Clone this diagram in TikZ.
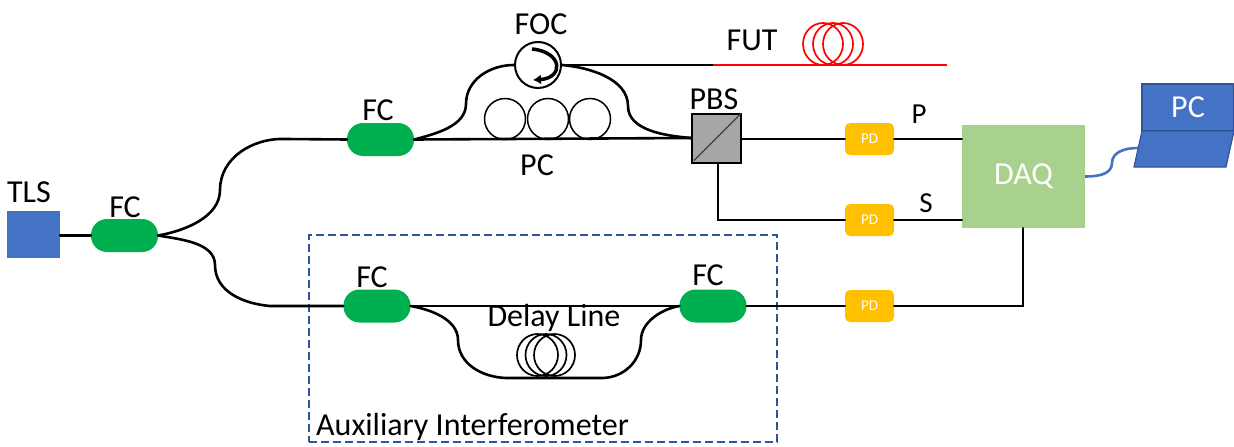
\documentclass[tikz,border=0pt]{standalone}
\usepackage{fontspec}
\setmainfont{Carlito}
\usetikzlibrary{shapes.geometric,arrows.meta,calc}
\definecolor{tlsblue}{HTML}{4472C4}
\definecolor{darkblue}{HTML}{2F5597}
\definecolor{fcgreen}{HTML}{00B050}
\definecolor{pdyellow}{HTML}{FFC000}
\definecolor{daqgreen}{HTML}{A9D18E}
\definecolor{pbsgray}{HTML}{A6A6A6}
\tikzset{
  fiber/.style={draw=black,line width=2.6pt,line cap=round},
  redfiber/.style={draw=red,line width=2.6pt},
  lab/.style={inner sep=0pt,font=\fontsize{32}{35}\selectfont,text=black},
  fcbox/.style={fill=fcgreen,rounded corners=16pt,minimum width=67pt,minimum height=33pt,inner sep=0pt},
  pdbox/.style={fill=pdyellow,rounded corners=5pt,minimum width=49pt,minimum height=32pt,inner sep=0pt,text=white,font=\fontsize{15}{17}\selectfont},
  loop/.style={circle,draw=black,line width=1.5pt,minimum size=41pt,inner sep=0pt},
  coil/.style={ellipse,draw=#1,line width=1.7pt,minimum width=40pt,minimum height=42pt,inner sep=0pt},
}
\begin{document}
\begin{tikzpicture}[x=1pt,y=-1pt]
\useasboundingbox (0,0) rectangle (1234,447);
% dashed frame
\node[draw=darkblue,dash pattern=on 8pt off 4pt,line width=2pt,minimum width=468pt,minimum height=207pt,inner sep=0pt] (aux) at (543,338.5) {};
% blocks
\node[fill=tlsblue,minimum width=53pt,minimum height=47pt,inner sep=0pt] (tls) at (33.5,234.5) {};
\node[fcbox] (fca) at (124.5,235.5) {};
\node[fcbox] (fcb) at (380.5,139.5) {};
\node[fcbox] (fcc) at (377,306) {};
\node[fcbox] (fcd) at (713,306) {};
\node[pdbox] (pda) at (869.5,139) {PD};
\node[pdbox] (pdb) at (869.5,220) {PD};
\node[pdbox] (pdc) at (869.5,306) {PD};
\node[fill=daqgreen,minimum width=123pt,minimum height=103pt,inner sep=0pt,text=white,font=\fontsize{32}{35}\selectfont] (daq) at (1023.5,176.5) {DAQ};
\node[draw=black,fill=pbsgray,line width=2pt,minimum size=49pt,inner sep=0pt] (pbs) at (716.5,138) {};
\draw[draw=black!75,line width=1.2pt] ($(pbs.south west)+(3,-3)$) -- ($(pbs.north east)+(-1,1)$);
\node[circle,draw=black,line width=2pt,minimum size=46pt,inner sep=0pt] (foc) at (538,65) {};
% polarization controller loops
\node[loop] (la) at (505,119) {};
\node[loop] (lb) at (548,119) {};
\node[loop] (lc) at (590,119) {};
% coils
\node[coil=red] (ra) at (823,44) {};
\node[coil=red] (rb) at (833,44) {};
\node[coil=red] (rc) at (843,44) {};
\node[coil=black,minimum width=41pt] (da) at (537.5,355) {};
\node[coil=black,minimum width=41pt] (db) at (546,355) {};
\node[coil=black,minimum width=41pt] (dc) at (554.5,355) {};
% waypoints
\coordinate (u1) at (220,190);
\coordinate (u2) at (285,139);
\coordinate (d1) at (215,265);
\coordinate (d2) at (270,306);
\coordinate (v1) at (466,104);
\coordinate (v2) at (628,106);
\coordinate (w1) at (458,340);
\coordinate (w2) at (506,378);
\coordinate (w3) at (603,378);
\coordinate (w4) at (641,340);
\coordinate (t1) at (713,65);
\coordinate (t2) at (947,65);
\coordinate (q1) at (718,220);
\coordinate (q2) at (1023,306);
% fibres
\draw[fiber] (tls.east |- fca.west) -- (fca.west);
\draw[fiber] (fca.east) to[out=10,in=-90,looseness=.9] (u1) to[out=90,in=178] (u2) -- (fcb.west);
\draw[fiber] (fca.east) to[out=-10,in=90,looseness=.9] (d1) to[out=-90,in=175] (d2) -- (fcc.west);
\draw[fiber] (fcb.east) -- (pbs.west);
\draw[fiber] (fcb.east) to[out=15,in=-90,looseness=.9] (v1) to[out=90,in=180] (foc.west);
\draw[fiber] (foc.east) to[out=-5,in=90,looseness=.9] (v2) to[out=-90,in=175,looseness=.9] (pbs.west);
\draw[fiber] (foc.east) -- (t1);
\draw[redfiber] (t1) -- (t2);
\draw[fiber] (pbs.east |- pda.west) -- (pda.west);
\draw[fiber] (pbs.south -| q1) -- (q1) -- (pdb.west);
\draw[fiber] (pda.east) -- (pda.east -| daq.west);
\draw[fiber] (pdb.east) -- (pdb.east -| daq.west);
\draw[fiber] (fcc.east) -- (fcd.west);
\draw[fiber] (fcc.east) to[out=-10,in=90,looseness=.9] (w1) to[out=-90,in=178] (w2) -- (w3) to[out=2,in=-90] (w4) to[out=90,in=190,looseness=.9] (fcd.west);
\draw[fiber] (fcd.east) -- (pdc.west);
\draw[fiber] (pdc.east) -- (q2) -- (q2 |- daq.south);
% circulator arrow
\draw[line width=3.5pt,-{Latex[length=8pt,width=10pt]}] (532,49) .. controls (563,52) and (564,78) .. (533,80);
% laptop
\node[fill=tlsblue,draw=darkblue,line width=1.2pt,minimum width=92pt,minimum height=47pt,inner sep=0pt,text=white,font=\fontsize{32}{35}\selectfont] (screen) at (1188,107.5) {PC};
\coordinate (kb1) at (1142,131);
\coordinate (kb2) at (1234,131);
\coordinate (kb3) at (1226,167);
\coordinate (kb4) at (1134,167);
\draw[fill=tlsblue,draw=darkblue,line width=1.2pt] (kb1) -- (kb2) -- (kb3) -- (kb4) -- cycle;
\coordinate (cbl) at (1138,148);
\coordinate (cbm) at (1112,163);
\draw[draw=tlsblue,line width=2.6pt] (daq.east) to[out=0,in=-90] (cbm) to[out=90,in=180] (cbl);
% labels
\node[lab] (lfoc) at (541,24) {FOC};
\node[lab] (lfut) at (752,40) {FUT};
\node[lab] (lpbs) at (714,99) {PBS};
\node[lab] (lpc) at (537,165) {PC};
\node[lab] (lfcb) at (378,110) {FC};
\node[lab] (ltls) at (29,192) {TLS};
\node[lab] (lfca) at (125,207) {FC};
\node[lab,font=\fontsize{29}{32}\selectfont] (lp) at (919,114) {P};
\node[lab,font=\fontsize{29}{32}\selectfont] (ls) at (926,203) {S};
\node[lab] (lfcc) at (372,277) {FC};
\node[lab] (lfcd) at (708,275) {FC};
\node[lab] (ldl) at (554,318) {Delay Line};
\node[lab,anchor=west] (laux) at (316,427) {Auxiliary Interferometer};
\end{tikzpicture}
\end{document}
